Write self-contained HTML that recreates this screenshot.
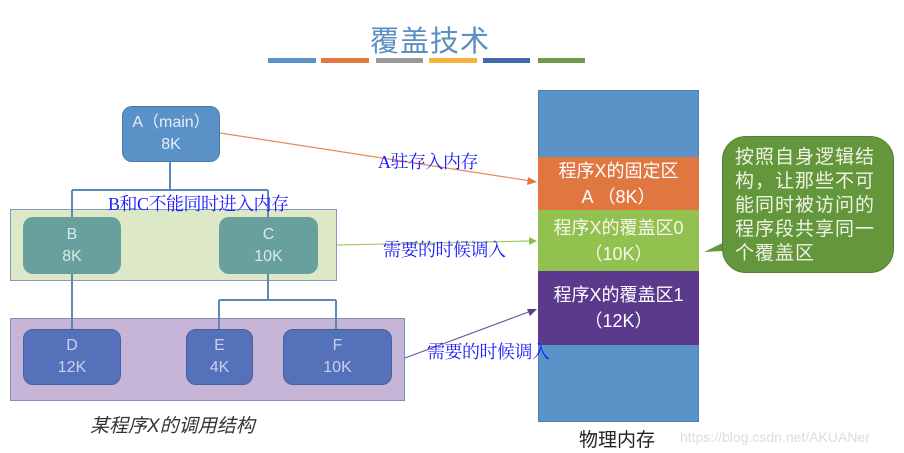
<!DOCTYPE html>
<html><head><meta charset="utf-8"><style>
body{margin:0;width:904px;height:453px;background:#fff;position:relative;overflow:hidden;font-family:"Liberation Sans","Noto Sans CJK SC",sans-serif}
.a{position:absolute;box-sizing:border-box}
.n{border-radius:10px;color:#e6eef6;font-size:16px;text-align:center;line-height:22px;display:flex;flex-direction:column;justify-content:center}
.lb{position:absolute;color:#1a1aff;font-family:"Liberation Serif","Noto Serif CJK SC",serif;font-size:18px;white-space:nowrap;letter-spacing:-0.5px}
.m{color:#fff;font-size:18px;text-align:center;line-height:26px;display:flex;flex-direction:column;justify-content:center}
</style></head><body>
<div class="a" style="left:370px;top:18px;font-size:29px;color:#5b8ec2;letter-spacing:1px">覆盖技术</div>
<div class="a" style="left:268px;top:58px;width:48px;height:5px;background:#5b93c8"></div>
<div class="a" style="left:321px;top:58px;width:48px;height:5px;background:#e07840"></div>
<div class="a" style="left:376px;top:58px;width:47px;height:5px;background:#999"></div>
<div class="a" style="left:429px;top:58px;width:48px;height:5px;background:#f3b33c"></div>
<div class="a" style="left:483px;top:58px;width:47px;height:5px;background:#4569b0"></div>
<div class="a" style="left:538px;top:58px;width:47px;height:5px;background:#6f9c48"></div>

<div class="a" style="left:10px;top:209px;width:327px;height:72px;background:#dde9c6;border:1.5px solid #8399bd"></div>
<div class="a" style="left:10px;top:318px;width:395px;height:83px;background:#c7b5d8;border:1.5px solid #7b8fc0"></div>

<svg class="a" style="left:0;top:0" width="904" height="453">
<g stroke="#5e88b8" stroke-width="2" fill="none">
<path d="M170 162V190M72 190H268M72 190V217M268 190V217M72 274V329M268 274V300M219 300H336M219 300V329M336 300V329"/>
</g>
<line x1="220" y1="133" x2="531" y2="181" stroke="#e88a5a" stroke-width="1.2"/>
<polygon points="537,182 528,177 527,185" fill="#e07840"/>
<line x1="337" y1="245" x2="531" y2="241" stroke="#9ccc66" stroke-width="1.2"/>
<polygon points="537,241 529,237 529,245" fill="#8cc050"/>
<line x1="405" y1="358" x2="531" y2="311" stroke="#6b55a0" stroke-width="1.2"/>
<polygon points="537,309 527,309 530,316" fill="#5a3f90"/>
<path d="M745 232 L704 252 L740 250 Z" fill="#64973c"/>
</svg>

<div class="a n" style="left:122px;top:106px;width:98px;height:56px;background:#5a92c8;border:1px solid #4a7aa8">A（main）<span>8K</span></div>
<div class="a n" style="left:23px;top:217px;width:98px;height:57px;background:#67a09c;color:#d8ece4">B<span>8K</span></div>
<div class="a n" style="left:219px;top:217px;width:99px;height:57px;background:#67a09c;color:#d8ece4">C<span>10K</span></div>
<div class="a n" style="left:23px;top:329px;width:98px;height:56px;background:#5571b9;border:1px solid #4660a0;color:#c8d0ec">D<span>12K</span></div>
<div class="a n" style="left:186px;top:329px;width:67px;height:56px;background:#5571b9;border:1px solid #4660a0;color:#c8d0ec">E<span>4K</span></div>
<div class="a n" style="left:283px;top:329px;width:109px;height:56px;background:#5571b9;border:1px solid #4660a0;color:#c8d0ec">F<span>10K</span></div>

<div class="a" style="left:90px;top:411px;font-size:19px;font-style:italic;color:#333">某程序X的调用结构</div>

<div class="a" style="left:538px;top:90px;width:161px;height:332px;background:#5a93c8;border:1px solid #4a80b8"></div>
<div class="a m" style="left:538px;top:157px;width:161px;height:53px;background:#e07640">程序X的固定区<span>A （8K）</span></div>
<div class="a m" style="left:538px;top:210px;width:161px;height:61px;background:#92c150;color:#f4f8ec">程序X的覆盖区0<span>（10K）</span></div>
<div class="a m" style="left:538px;top:271px;width:161px;height:74px;background:#5b3a8e">程序X的覆盖区1<span>（12K）</span></div>
<div class="a" style="left:579px;top:425px;font-size:19px;color:#222">物理内存</div>
<div class="a" style="left:680px;top:429px;font-size:14px;color:#ddd">https://blog.csdn.net/AKUANer</div>

<div class="lb" style="left:108px;top:190px">B和C不能同时进入内存</div>
<div class="lb" style="left:378px;top:148px">A驻存入内存</div>
<div class="lb" style="left:383px;top:236px">需要的时候调入</div>
<div class="lb" style="left:427px;top:338px">需要的时候调入</div>

<div class="a" style="left:722px;top:136px;width:172px;height:137px;background:#64973c;border:1.5px solid #557f35;border-radius:24px;color:#eef3e6;font-size:19px;line-height:24px;padding:9px 0 0 12px;letter-spacing:1px">按照自身逻辑结<br>构，让那些不可<br>能同时被访问的<br>程序段共享同一<br>个覆盖区</div>
</body></html>
